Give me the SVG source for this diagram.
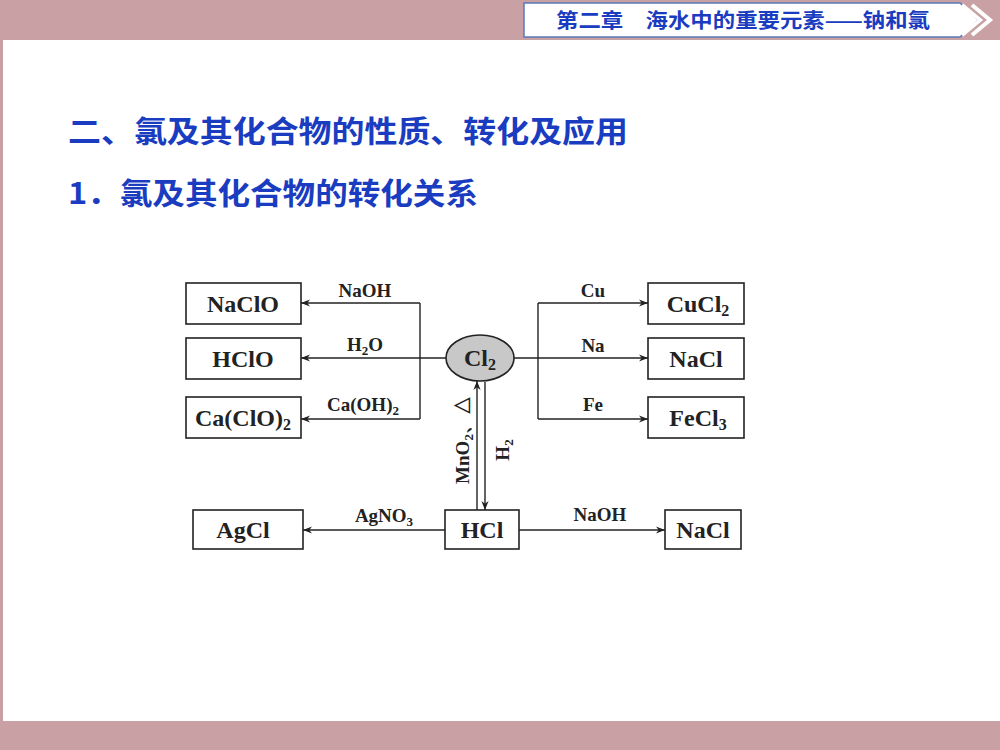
<svg xmlns="http://www.w3.org/2000/svg" width="1000" height="750" viewBox="0 0 1000 750">
<defs>
<marker id="ah" viewBox="0 0 10 10" refX="10" refY="5" markerWidth="9" markerHeight="9" markerUnits="userSpaceOnUse" orient="auto"><path d="M0,1 L10,5 L0,9 L3,5 z" fill="#222"/></marker>
<style>
.box{fill:#fff;stroke:#222;stroke-width:1.6}
.t{font-family:"Liberation Serif",serif;font-weight:bold;font-size:24px;fill:#222;text-anchor:middle}
.l{font-family:"Liberation Serif",serif;font-weight:bold;font-size:19px;fill:#222;text-anchor:middle}
.c{fill:none;stroke:#222;stroke-width:1.4}
.h{font-family:"Noto Sans CJK SC",sans-serif;font-weight:bold;fill:#1a3cc0}
</style>
</defs>
<rect width="1000" height="750" fill="#c9a0a4"/>
<rect x="3" y="40" width="997" height="681" fill="#fff"/>
<g id="header">
<path d="M524,3 H960 L978,20 L960,37 H524 Z" fill="#fff" stroke="#5a7ab8" stroke-width="1.5"/>
<path d="M962,5 L980,20 L962,35 M972,5 L990,20 L972,35" fill="none" stroke="#fff" stroke-width="4"/>
<text x="556" y="28" class="h" font-size="20" textLength="374" lengthAdjust="spacingAndGlyphs">第二章　海水中的重要元素——钠和氯</text>
</g>
<text x="68" y="142" class="h" font-size="30" textLength="560" lengthAdjust="spacingAndGlyphs">二、氯及其化合物的性质、转化及应用</text>
<text x="68" y="204" class="h" font-size="30" textLength="410" lengthAdjust="spacingAndGlyphs">1．氯及其化合物的转化关系</text>
<g id="connectors">
<path class="c" d="M446,358 H301" marker-end="url(#ah)"/>
<path class="c" d="M420,303 V419"/>
<path class="c" d="M420,303 H301" marker-end="url(#ah)"/>
<path class="c" d="M420,419 H301" marker-end="url(#ah)"/>
<path class="c" d="M514,358 H648" marker-end="url(#ah)"/>
<path class="c" d="M538,303 V419"/>
<path class="c" d="M538,303 H648" marker-end="url(#ah)"/>
<path class="c" d="M538,419 H648" marker-end="url(#ah)"/>
<path class="c" d="M477,510 V381" marker-end="url(#ah)"/>
<path class="c" d="M485,382 V510" marker-end="url(#ah)"/>
<path class="c" d="M445,530 H303" marker-end="url(#ah)"/>
<path class="c" d="M519,530 H665" marker-end="url(#ah)"/>
<text class="l" x="365" y="297">NaOH</text>
<text class="l" x="365" y="351">H<tspan font-size="13" dy="4">2</tspan><tspan dy="-4">O</tspan></text>
<text class="l" x="363" y="411">Ca(OH)<tspan font-size="13" dy="4">2</tspan></text>
<text class="l" x="593" y="297">Cu</text>
<text class="l" x="593" y="352">Na</text>
<text class="l" x="593" y="411">Fe</text>
<text class="l" x="384" y="522">AgNO<tspan font-size="13" dy="4">3</tspan></text>
<text class="l" x="600" y="521">NaOH</text>
<text class="l" transform="translate(469,440) rotate(-90)">MnO<tspan font-size="13" dy="4">2</tspan><tspan dy="-4">、△</tspan></text>
<text class="l" transform="translate(509,450) rotate(-90)">H<tspan font-size="13" dy="4">2</tspan></text>
</g>
<g id="NaClO"><rect class="box" x="186" y="283" width="115" height="41"/><text class="t" x="243" y="312">NaClO</text></g>
<g id="HClO"><rect class="box" x="186" y="338" width="115" height="41"/><text class="t" x="243" y="367">HClO</text></g>
<g id="CaClO2"><rect class="box" x="186" y="397" width="115" height="41"/><text class="t" x="243" y="426">Ca(ClO)<tspan font-size="16" dy="4">2</tspan></text></g>
<g id="Cl2"><ellipse cx="480" cy="358" rx="34" ry="23" fill="#c8c8c8" stroke="#222" stroke-width="1.6"/><text class="t" x="480" y="366">Cl<tspan font-size="16" dy="4">2</tspan></text></g>
<g id="CuCl2"><rect class="box" x="648" y="283" width="96" height="41"/><text class="t" x="698" y="312">CuCl<tspan font-size="16" dy="4">2</tspan></text></g>
<g id="NaCl1"><rect class="box" x="648" y="338" width="96" height="41"/><text class="t" x="696" y="367">NaCl</text></g>
<g id="FeCl3"><rect class="box" x="648" y="397" width="96" height="41"/><text class="t" x="698" y="426">FeCl<tspan font-size="16" dy="4">3</tspan></text></g>
<g id="HCl"><rect class="box" x="445" y="510" width="74" height="39"/><text class="t" x="482" y="538">HCl</text></g>
<g id="AgCl"><rect class="box" x="193" y="510" width="110" height="39"/><text class="t" x="243" y="538">AgCl</text></g>
<g id="NaCl2"><rect class="box" x="665" y="510" width="76" height="39"/><text class="t" x="703" y="538">NaCl</text></g>
</svg>
